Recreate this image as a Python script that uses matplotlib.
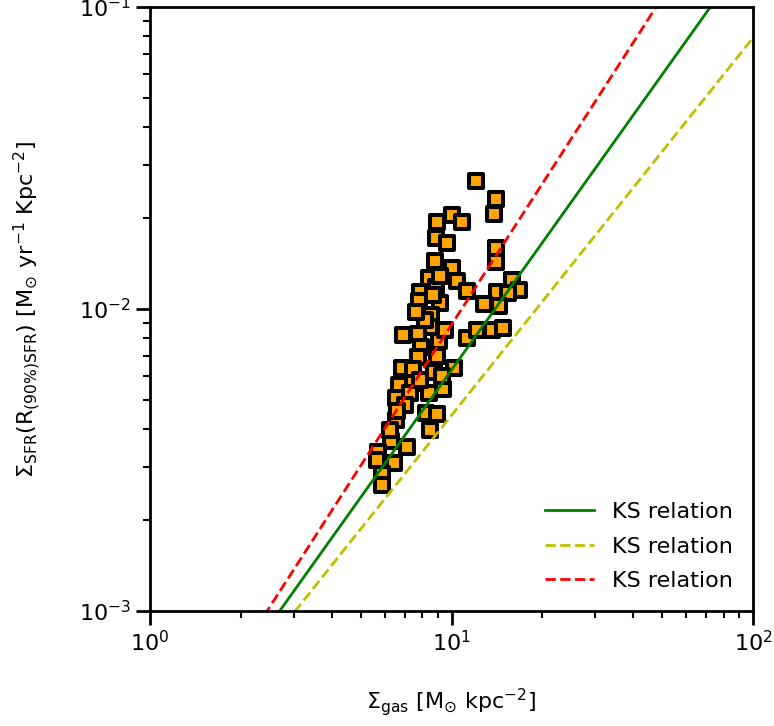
import numpy as np
import matplotlib
matplotlib.use('Agg')
import matplotlib.pyplot as plt

# gas surface density vs SFR surface density
sigma_gas = [12.06, 14.05, 13.84, 10.04, 8.95, 10.83, 8.88, 9.66, 14.05, 8.82,
             10.04, 14.05, 8.42, 10.43, 15.88, 16.75, 7.86, 8.88, 11.26, 14.16,
             15.40, 7.80, 9.16, 12.82, 14.37, 8.55, 8.49, 6.91, 7.74, 9.09,
             11.26, 12.15, 13.62, 14.82, 7.92, 7.74, 8.95, 6.85, 7.45, 8.75,
             10.19, 7.45, 6.70, 8.42, 9.37, 6.55, 7.29, 8.23, 8.95, 6.55,
             8.49, 6.30, 7.12, 5.70, 5.66, 6.45, 5.88, 5.88,
             9.16, 8.17, 9.52, 7.01, 7.86, 6.25, 8.70, 7.60, 9.30, 6.60]
sigma_sfr = [0.0265, 0.0231, 0.0206, 0.0205, 0.0194, 0.0194, 0.0172, 0.0165, 0.0159, 0.0144,
             0.0137, 0.0143, 0.0127, 0.0124, 0.0125, 0.0116, 0.0114, 0.0118, 0.0115, 0.0114,
             0.0113, 0.0106, 0.0105, 0.0104, 0.0102, 0.00955, 0.00872, 0.0082, 0.00826, 0.00783,
             0.0080, 0.00852, 0.00852, 0.00865, 0.00748, 0.00693, 0.0070, 0.00637, 0.00633, 0.00619,
             0.00637, 0.00569, 0.0056, 0.00527, 0.00543, 0.00507, 0.00527, 0.00452, 0.00449, 0.00429,
             0.00397, 0.00365, 0.00349, 0.00336, 0.00316, 0.00309, 0.00284, 0.00261,
             0.0129, 0.0092, 0.00852, 0.00481, 0.00582, 0.00397, 0.0111, 0.0098, 0.0060, 0.0046]

# Kennicutt-Schmidt relation: norm * sigma_gas**index
ks_norm = 2.5e-4
ks_index = [1.4, 1.25, 1.55]
ks_style = [('g', '-'), ('y', '--'), ('r', '--')]

plt.rcParams['font.size'] = 16
plt.rcParams['axes.linewidth'] = 2

fig = plt.figure(figsize=(7.74, 7.26), dpi=100)
ax = fig.add_axes([0.1938, 0.1584, 0.7791, 0.832])

ax.scatter(sigma_gas, sigma_sfr, marker='s', s=100, c='orange',
           edgecolors='k', linewidths=2.9)

xx = np.logspace(0, 2, 50)
for n, (col, ls) in zip(ks_index, ks_style):
    ax.plot(xx, ks_norm * xx**n, color=col, ls=ls, lw=2, label='KS relation')

ax.set_xscale('log')
ax.set_yscale('log')
ax.set_xlim(1, 100)
ax.set_ylim(1e-3, 1e-1)

ax.tick_params(which='major', length=10, width=2, labelsize=16)
ax.tick_params(which='minor', length=5, width=1.5)

ax.set_xlabel(r'$\Sigma_{\rm gas}$ [M$_{\odot}$ kpc$^{-2}$]', fontsize=16, labelpad=22)
ax.set_ylabel(r'$\Sigma_{\rm SFR}(\rm R_{(90\%)SFR})$ [M$_{\odot}$ yr$^{-1}$ Kpc$^{-2}$]',
              fontsize=16, labelpad=26)

ax.legend(loc='lower right', frameon=False, fontsize=16, handlelength=2.2,
          labelspacing=0.65)

fig.savefig('out.png', dpi=100)
